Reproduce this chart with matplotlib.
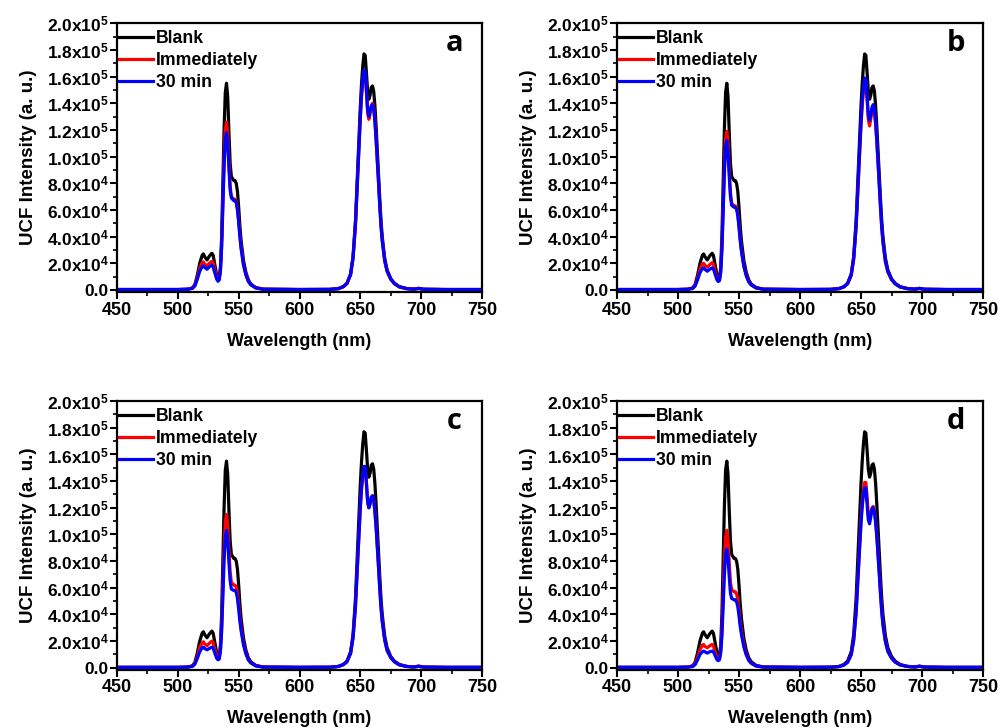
import numpy as np
import matplotlib
matplotlib.use("Agg")
import matplotlib.pyplot as plt
from matplotlib.ticker import MultipleLocator, FuncFormatter

plt.rcParams['font.family'] = ['Liberation Sans', 'DejaVu Sans']
plt.rcParams['font.weight'] = 'bold'
plt.rcParams['mathtext.fontset'] = 'custom'
plt.rcParams['mathtext.rm'] = 'Liberation Sans:bold'
plt.rcParams['mathtext.it'] = 'Liberation Sans:bold'
plt.rcParams['mathtext.bf'] = 'Liberation Sans:bold'
plt.rcParams['mathtext.default'] = 'rm'

# Wavelength (nm)
wavelength = [450, 500, 508, 512, 514, 516, 518, 520, 521, 522,
              524, 526, 528, 529, 530, 532, 533, 534, 535, 536,
              537, 538, 539, 540, 541, 542, 543, 544, 546, 547,
              548, 549, 550, 551, 552, 554, 556, 558, 560, 564,
              570, 600, 625, 632, 636, 639, 642, 644, 646, 648,
              650, 651, 652, 653, 654, 655, 656, 657, 658, 659,
              660, 661, 662, 663, 664, 665, 666, 667, 668, 670,
              672, 675, 678, 682, 688, 694, 698, 702, 720, 750]

# Intensities in units of 10^3 a.u.
blank = [0.3, 0.3, 0.5, 1.5, 4, 11, 20, 26, 27, 25,
         22.5, 25.5, 27.5, 26, 21, 11, 8.5, 9, 17, 40,
         80, 120, 148, 155, 145, 118, 95, 85, 82, 82,
         80, 74, 62, 48, 37, 22, 13, 7.5, 4.5, 1.8,
         0.6, 0.3, 0.4, 1, 2.5, 5, 12, 25, 52, 95,
         138, 155, 168, 177, 176, 163, 149, 143, 146, 152,
         153, 149, 138, 122, 104, 86, 68, 52, 40, 24,
         15, 8.5, 5, 2.5, 1, 0.6, 1.2, 0.5, 0.3, 0.3]

immediately_a = [0.3, 0.3, 0.5, 1.3, 3.5, 9, 16, 20.5, 21, 19.5,
                 18, 20, 21.5, 20.5, 16.5, 9, 7.5, 8, 15, 34,
                 66, 98, 120, 126, 117, 96, 78, 70, 68, 68,
                 66.5, 61, 52, 41, 32, 19, 11.5, 6.5, 4, 1.6,
                 0.5, 0.3, 0.4, 1, 2.4, 4.8, 11.5, 24, 49, 89,
                 129, 145, 156, 164, 163, 149, 133, 128, 132, 138,
                 140, 137, 127, 113, 96, 80, 63, 48, 37, 22,
                 14, 8, 4.7, 2.3, 1, 0.6, 1.1, 0.5, 0.3, 0.3]
min30_a = [0.3, 0.3, 0.5, 1.2, 3, 8, 14, 17.5, 18, 17,
           15.5, 17.5, 18.5, 17.5, 14, 8, 6.5, 7.5, 14, 32,
           62, 92, 113, 118, 110, 91, 75, 69, 67, 67,
           65.5, 60, 51, 40, 31, 18.5, 11, 6.3, 3.8, 1.5,
           0.5, 0.3, 0.4, 1, 2.4, 4.8, 11.5, 24, 49, 89,
           130, 147, 158, 165, 164, 150, 135, 130, 134, 138,
           139, 136, 126, 112, 96, 80, 63, 48, 37, 22,
           14, 8, 4.7, 2.3, 1, 0.6, 1.1, 0.5, 0.3, 0.3]

immediately_b = [0.3, 0.3, 0.5, 1.3, 3.4, 8.5, 15.5, 19.5, 20, 18.5,
                 17, 19, 20.5, 19.5, 15.5, 8.5, 7, 7.5, 14, 32,
                 62, 92, 113, 119, 111, 90, 73, 65, 63, 63,
                 61.5, 57, 48, 38, 30, 18, 11, 6.2, 3.8, 1.5,
                 0.5, 0.3, 0.4, 1, 2.3, 4.6, 11, 23, 47, 85,
                 123, 138, 149, 156, 156, 143, 128, 123, 128, 135,
                 137, 134, 124, 110, 94, 78, 61, 47, 36, 21,
                 13.5, 7.8, 4.6, 2.2, 1, 0.6, 1.1, 0.5, 0.3, 0.3]
min30_b = [0.3, 0.3, 0.5, 1.1, 2.9, 7.5, 13, 16, 16.5, 15.5,
           14, 15.5, 16.5, 16, 13, 7.5, 6.3, 7, 13, 30,
           58, 87, 107, 112, 104, 85, 70, 63.5, 62, 62,
           60.5, 56, 47, 37, 29, 17.5, 10.5, 6, 3.7, 1.5,
           0.5, 0.3, 0.4, 1, 2.3, 4.7, 11.2, 23.5, 48, 87,
           126, 142, 152, 159, 158, 145, 131, 127, 131, 137,
           139, 136, 126, 112, 96, 79, 62, 47, 36, 21.5,
           13.8, 7.9, 4.6, 2.2, 1, 0.6, 1.1, 0.5, 0.3, 0.3]

immediately_c = [0.3, 0.3, 0.5, 1.3, 3.3, 8.3, 15, 19, 19.5, 18,
                 16.5, 18.5, 20, 19, 15, 8.5, 7, 7.5, 14, 31,
                 60, 89, 109, 115, 107, 88, 72, 64, 62, 62,
                 60.5, 56, 47.5, 37.5, 29.5, 18, 11, 6.2, 3.8, 1.5,
                 0.5, 0.3, 0.4, 1, 2.3, 4.5, 10.8, 22.5, 46, 83,
                 120, 134, 144, 150, 150, 138, 124, 120, 123, 128,
                 129, 126, 117, 105, 90, 75, 59, 45, 35, 21,
                 13, 7.6, 4.5, 2.2, 1, 0.6, 1.1, 0.5, 0.3, 0.3]
min30_c = [0.3, 0.3, 0.5, 1.0, 2.7, 7, 12, 15, 15.5, 14.5,
           13.5, 14.5, 15.5, 15, 12, 7, 6, 6.5, 12, 27,
           53, 80, 98, 103, 96, 79, 65, 59, 58, 58,
           56.5, 52, 44, 35, 28, 17, 10.3, 5.8, 3.6, 1.4,
           0.5, 0.3, 0.4, 1, 2.3, 4.5, 10.8, 22.5, 46, 84,
           121, 135, 145, 151, 151, 139, 125, 120, 123, 128,
           129, 126, 117, 105, 90, 75, 59, 45, 35, 21,
           13, 7.6, 4.5, 2.2, 1, 0.6, 1.1, 0.5, 0.3, 0.3]

immediately_d = [0.3, 0.3, 0.5, 1.2, 3, 7.5, 13.5, 17, 17.5, 16,
                 15, 16.5, 17.5, 16.5, 13, 7.5, 6.3, 7, 12.5, 28,
                 54, 80, 98, 103, 96, 79, 64, 58.5, 57, 57,
                 55.5, 51, 43.5, 34.5, 27.5, 17, 10.3, 5.8, 3.6, 1.4,
                 0.5, 0.3, 0.4, 0.9, 2.1, 4.2, 10, 21, 42, 77,
                 111, 124, 133, 139, 139, 128, 115, 111, 115, 120,
                 121, 118, 110, 99, 85, 71, 56, 43, 33, 20,
                 12.5, 7.3, 4.3, 2.1, 1, 0.6, 1.1, 0.5, 0.3, 0.3]
min30_d = [0.3, 0.3, 0.5, 0.9, 2.3, 5.8, 10, 12, 12.5, 12,
           11, 12, 12.5, 12, 10, 6, 5.3, 6, 11, 24,
           46, 69, 85, 89, 83, 68, 56, 52, 51, 51,
           49.5, 46, 39, 31, 25, 15.5, 9.5, 5.5, 3.4, 1.3,
           0.5, 0.3, 0.4, 0.9, 2, 4.1, 9.8, 20.5, 41, 75,
           108, 121, 130, 135, 135, 122, 111, 108, 113, 119,
           120, 117, 109, 98, 84, 70, 55, 42, 32, 19.5,
           12.3, 7.2, 4.2, 2.1, 1, 0.6, 1.1, 0.5, 0.3, 0.3]

series_labels = ['Blank', 'Immediately', '30 min']
series_colors = ['#000000', '#ff0000', '#0000ff']
panel_letters = ['a', 'b', 'c', 'd']
panel_data = [
    (blank, immediately_a, min30_a),
    (blank, immediately_b, min30_b),
    (blank, immediately_c, min30_c),
    (blank, immediately_d, min30_d),
]

x_ticks = [450, 500, 550, 600, 650, 700, 750]
y_ticks = [0, 2e4, 4e4, 6e4, 8e4, 1e5, 1.2e5, 1.4e5, 1.6e5, 1.8e5, 2e5]


def yfmt(v, pos):
    if abs(v) < 1:
        return '0.0'
    e = int(np.floor(np.log10(abs(v)) + 1e-9))
    m = v / 10 ** e
    return '%.1fx10$^{%d}$' % (m, e)


fig = plt.figure(figsize=(10, 7.28), dpi=100)
positions = [
    [0.117, 0.599, 0.365, 0.369],
    [0.617, 0.599, 0.366, 0.369],
    [0.117, 0.080, 0.365, 0.369],
    [0.617, 0.080, 0.366, 0.369],
]

wl = np.array(wavelength)
for pos, letter, data in zip(positions, panel_letters, panel_data):
    ax = fig.add_axes(pos)
    for vals, lab, col in zip(data, series_labels, series_colors):
        ax.plot(wl, np.array(vals) * 1e3, color=col, lw=2.3, label=lab,
                solid_joinstyle='round')
    ax.set_xlim(450, 750)
    ax.set_ylim(-1500, 2e5)
    ax.set_xticks(x_ticks)
    ax.set_yticks(y_ticks)
    ax.xaxis.set_minor_locator(MultipleLocator(25))
    ax.yaxis.set_minor_locator(MultipleLocator(1e4))
    ax.yaxis.set_major_formatter(FuncFormatter(yfmt))
    ax.tick_params(axis='both', which='major', direction='out', length=5,
                   width=1.5, pad=2)
    ax.tick_params(axis='both', which='minor', direction='out', length=3,
                   width=1.2)
    ax.tick_params(axis='x', labelsize=13, pad=2)
    ax.tick_params(axis='y', labelsize=12.5, pad=1)
    for sp in ax.spines.values():
        sp.set_linewidth(1.6)
    ax.set_xlabel('Wavelength (nm)', fontsize=13, fontweight='bold', labelpad=10)
    ax.set_ylabel('UCF Intensity (a. u.)', fontsize=13.5, fontweight='bold', labelpad=7)
    leg = ax.legend(loc='upper left', frameon=False, fontsize=12.7,
                    handlelength=1.95, handletextpad=0.15, labelspacing=0.28,
                    borderpad=0.1, borderaxespad=0.0, bbox_to_anchor=(0.0, 0.98))
    for t in leg.get_texts():
        t.set_fontweight('bold')
    ax.text(0.925, 0.925, letter, transform=ax.transAxes, fontsize=21,
            fontweight='bold', family=['Open Sans', 'DejaVu Sans'],
            ha='center', va='center')

fig.savefig('out.png', dpi=100)
